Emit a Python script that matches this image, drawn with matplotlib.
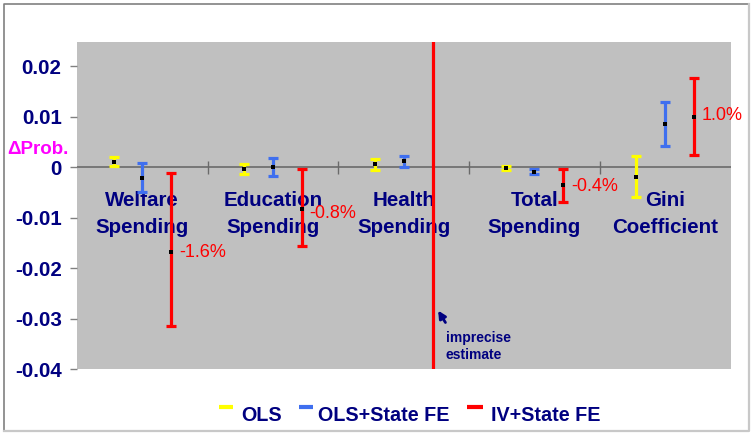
import numpy as np
import matplotlib
matplotlib.use("Agg")
import matplotlib.pyplot as plt
from matplotlib.lines import Line2D

plt.rcParams['font.family'] = ['Liberation Sans', 'DejaVu Sans']

# ---------------- data ----------------
categories = ["Welfare\nSpending", "Education\nSpending", "Health\nSpending",
              "Total\nSpending", "Gini\nCoefficient"]
series_names = ["OLS", "OLS+State FE", "IV+State FE"]

ols_est = [0.0011, -0.0004, 0.0006, -0.0002, -0.0019]
ols_lo = [0.0003, -0.0013, -0.0005, -0.0005, -0.0058]
ols_hi = [0.0020, 0.0006, 0.0016, 0.0003, 0.0023]

fe_est = [-0.0022, 0.0000, 0.0013, -0.0009, 0.0085]
fe_lo = [-0.0048, -0.0017, 0.0001, -0.0013, 0.0042]
fe_hi = [0.0008, 0.0018, 0.0022, -0.0004, 0.0130]

# Health IV estimate is imprecise: interval runs beyond the axis range
iv_est = [-0.0167, -0.0083, np.nan, -0.0035, 0.0100]
iv_lo = [-0.0314, -0.0156, -0.0600, -0.0069, 0.0024]
iv_hi = [-0.0012, -0.0003, 0.0600, -0.0004, 0.0178]

iv_labels = ["-1.6%", "-0.8%", "", "-0.4%", "1.0%"]

y_ticks = [0.02, 0.01, 0, -0.01, -0.02, -0.03, -0.04]
y_tick_labels = ["0.02", "0.01", "0", "-0.01", "-0.02", "-0.03", "-0.04"]

# ---------------- style ----------------
W, H = 754, 436
NAVY = "#000080"
colors = ["#FFFF00", "#3F6FEF", "#FF0000"]
offsets = [-0.22, 0.0, 0.22]

fig = plt.figure(figsize=(W / 100, H / 100), dpi=100)
fig.patch.set_facecolor("white")

def fx(px):
    return px / W

def fy(py):
    return 1 - py / H

ax = fig.add_axes([fx(77), fy(369.3), fx(730.5) - fx(77), fy(41.7) - fy(369.3)])
ax.set_facecolor("#C0C0C0")
ax.set_xlim(0, 5)
ax.set_ylim(-0.04, 0.0249)
for s in ax.spines.values():
    s.set_visible(False)

ax.set_yticks(y_ticks)
ax.set_yticklabels(y_tick_labels, fontsize=14.8, fontweight="bold", color=NAVY)
ax.tick_params(axis="y", length=5, width=1, color="#808080", pad=6)
ax.set_xticks([])

# zero line and category separators
ax.axhline(0, color="#6A6A6A", lw=1.2, zorder=1)
ax.vlines([1, 2, 3, 4], -0.0014, 0.0013, color="#6A6A6A", lw=1.0, zorder=1)

x = np.arange(len(categories)) + 0.5
series = [(ols_est, ols_lo, ols_hi), (fe_est, fe_lo, fe_hi), (iv_est, iv_lo, iv_hi)]
for (est, lo, hi), col, off in zip(series, colors, offsets):
    est = np.array(est, dtype=float)
    lo = np.array(lo, dtype=float)
    hi = np.array(hi, dtype=float)
    xs = x + off
    ok = ~np.isnan(est)
    ax.errorbar(xs[ok], est[ok], yerr=[est[ok] - lo[ok], hi[ok] - est[ok]],
                fmt="none", ecolor=col, elinewidth=2.3, capsize=3.6, capthick=2.3,
                zorder=3)
    ax.plot(xs[ok], est[ok], "s", color="black", ms=2.3, mew=0, zorder=4)
    for xi, l, h in zip(xs[~ok], lo[~ok], hi[~ok]):
        ax.vlines(xi, l, h, color=col, lw=2.3, zorder=3)

# category labels
for xi, cat in zip(x, categories):
    l1, l2 = cat.split("\n")
    ax.text(xi, -0.00648, l1, ha="center", va="center", fontsize=14.8,
            fontweight="bold", color=NAVY, zorder=2)
    ax.text(xi, -0.01188, l2, ha="center", va="center", fontsize=14.8,
            fontweight="bold", color=NAVY, zorder=2)

# IV percentage labels
lab_y = [-0.01678, -0.0092, None, -0.00376, 0.01026]
for xi, lab, ly in zip(x + offsets[2], iv_labels, lab_y):
    if lab:
        ax.text(xi + 0.06, ly, lab, ha="left", va="center", fontsize=13,
                color="#FF0000", zorder=5)

# imprecise estimate annotation
ax.annotate("", xy=(2.752, -0.0279), xytext=(2.83, -0.0312),
            arrowprops=dict(arrowstyle="-|>", color=NAVY, lw=2, mutation_scale=11),
            zorder=5)
ax.text(2.823, -0.03386, "imprecise", ha="left", va="center", fontsize=10,
        fontweight="bold", color=NAVY)
ax.text(2.823, -0.03717, "estimate", ha="left", va="center", fontsize=10,
        fontweight="bold", color=NAVY)

# y label
fig.text(fx(38), fy(149), "ΔProb.", ha="center", va="center", fontsize=13.5,
         fontweight="bold", color="#FF00FF")

# legend (manual)
leg = [(219, 233, 241), (299, 313, 318), (467, 483, 491)]
for (x0, x1, tx), col, name in zip(leg, colors, series_names):
    fig.add_artist(Line2D([fx(x0), fx(x1)], [fy(406.5), fy(406.5)],
                          transform=fig.transFigure, color=col, lw=3.0,
                          solid_capstyle="butt"))
    fig.text(fx(tx), fy(415), name, ha="left", va="center", fontsize=14.2,
             fontweight="bold", color=NAVY)

# figure frame
fig.add_artist(Line2D([fx(4), fx(4), fx(749)], [fy(431), fy(4), fy(4)],
                      transform=fig.transFigure, color="#808080", lw=1.2))
fig.add_artist(Line2D([fx(749), fx(749), fx(4)], [fy(4), fy(431), fy(431)],
                      transform=fig.transFigure, color="#C8C8C8", lw=1.6))

fig.savefig("out.png", dpi=100, facecolor="white")
